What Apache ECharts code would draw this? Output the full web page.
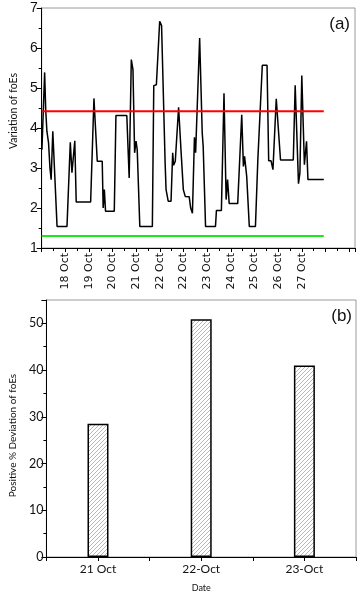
<!DOCTYPE html>
<html>
<head>
<meta charset="utf-8">
<script src="https://cdn.jsdelivr.net/npm/echarts@6/dist/echarts.min.js"></script>
<style>
html,body{margin:0;padding:0;background:#fff;}
#chart{width:360px;height:594px;}
</style>
</head>
<body>
<div id="chart"></div>
<script>
// ---- Panel (a): variation of foEs (x in day units; 18 = first labelled tick) ----
var foEsDay = [17.01,17.125,17.17,17.22,17.29,17.35,17.40,17.47,17.65,18.07,18.21,18.28,18.40,18.46,19.07,19.21,19.35,19.56,19.60,19.65,19.70,20.07,20.14,20.60,20.70,20.74,20.79,20.86,20.93,20.99,21.04,21.15,21.68,21.74,21.85,21.99,22.07,22.15,22.22,22.26,22.35,22.47,22.54,22.58,22.65,22.79,22.89,22.99,23.07,23.24,23.30,23.375,23.46,23.51,23.58,23.68,23.79,23.83,23.93,24.35,24.39,24.60,24.71,24.80,24.86,24.93,25.29,25.46,25.53,25.58,25.67,25.78,26.04,26.14,26.22,26.33,26.53,26.60,26.70,26.78,26.92,27.00,27.10,27.64,27.72,27.86,27.92,28.00,28.11,28.20,28.26,28.93];
var foEsValue = [3.46,5.39,4.46,3.92,3.63,3.00,2.71,3.92,1.54,1.54,3.64,2.88,3.68,2.15,2.15,4.74,3.17,3.17,2.00,2.46,1.92,1.92,4.31,4.31,2.75,2.71,5.71,5.46,3.38,3.67,3.46,1.54,1.54,5.06,5.08,6.67,6.56,6.54,3.13,2.46,2.17,2.17,3.38,3.07,3.17,4.52,3.46,2.46,2.29,2.28,2.00,1.87,3.77,3.38,3.38,6.25,3.87,3.54,1.54,1.54,1.94,1.94,4.87,2.21,2.71,2.11,2.11,4.33,3.04,3.29,2.79,1.54,1.54,3.19,3.19,5.57,5.57,3.18,3.18,2.96,4.73,4.71,3.20,3.20,5.07,2.61,2.88,5.31,3.08,3.67,2.71,2.71];
var upperLimit = 4.42;
var lowerLimit = 1.30;
var limitSpan = [17.0, 28.93];
var xTickLabels = ["", "18 Oct", "19 Oct", "20 Oct", "21 Oct", "22 Oct", "22 Oct", "23 Oct", "24 Oct", "25 Oct", "26 Oct", "27 Oct", "", ""];

// ---- Panel (b): positive % deviation ----
var devCategories = ["21 Oct", "22-Oct", "23-Oct"];
var devValues = [28.5, 50.9, 41.0];

function pairs(xs, ys) { return xs.map(function (x, i) { return [x, ys[i]]; }); }

function hatchCanvas() {
  var c = document.createElement('canvas');
  c.width = 4; c.height = 4;
  var g = c.getContext('2d');
  g.fillStyle = '#ffffff'; g.fillRect(0, 0, 4, 4);
  g.strokeStyle = '#a6a6a6'; g.lineWidth = 0.8;
  g.beginPath();
  g.moveTo(0, 4); g.lineTo(4, 0);
  g.moveTo(-1, 1); g.lineTo(1, -1);
  g.moveTo(3, 5); g.lineTo(5, 3);
  g.stroke();
  return c;
}

var chart = echarts.init(document.getElementById('chart'), null, {renderer: 'canvas'});
var black = '#000';
var option = {
  backgroundColor: '#fff',
  animation: false,
  grid: [
    {left: 37, top: 8, width: 318, height: 240, show: true, borderColor: '#9a9a9a', borderWidth: 1},
    {left: 38, top: 300, width: 318, height: 260, show: true, borderColor: '#9a9a9a', borderWidth: 1}
  ],
  xAxis: [
    {
      type: 'value', gridIndex: 0, min: 17, max: 30.25, interval: 1,
      axisLine: {show: true, onZero: false, lineStyle: {color: black, width: 1}},
      axisTick: {show: true, length: 4, lineStyle: {color: black}},
      minorTick: {show: true, splitNumber: 2, length: 3, lineStyle: {color: black}},
      splitLine: {show: false},
      axisLabel: {
        rotate: 90, margin: 5, fontFamily: 'DejaVu Sans', fontSize: 11, color: '#111',
        showMaxLabel: false, showMinLabel: false,
        formatter: function (v) {
          var k = Math.round(v - 17);
          if (Math.abs(v - 17 - k) > 1e-6) return '';
          return xTickLabels[k] || '';
        }
      }
    },
    {
      type: 'category', gridIndex: 1, data: devCategories, position: 'bottom',
      axisLine: {show: true, lineStyle: {color: black, width: 1}},
      axisTick: {show: true, alignWithLabel: true, length: 4, lineStyle: {color: black}},
      axisLabel: {fontFamily: 'Lato', fontSize: 12, color: '#111', margin: 6},
      name: 'Date', nameLocation: 'middle', nameGap: 27,
      nameTextStyle: {fontFamily: 'Lato', fontSize: 9, color: '#111'}
    },
    {
      type: 'category', gridIndex: 1, data: devCategories, position: 'bottom',
      axisLine: {show: false},
      axisTick: {show: true, length: 4, lineStyle: {color: black}},
      axisLabel: {show: false}
    }
  ],
  yAxis: [
    {
      type: 'value', gridIndex: 0, min: 1, max: 7, interval: 1,
      axisLine: {show: true, onZero: false, lineStyle: {color: black, width: 1}},
      axisTick: {show: true, length: 5, lineStyle: {color: black}},
      minorTick: {show: true, splitNumber: 2, length: 3, lineStyle: {color: black}},
      splitLine: {show: false},
      axisLabel: {fontFamily: 'Liberation Sans', fontSize: 14, color: '#111', margin: 4},
      name: 'Variation of foEs', nameLocation: 'middle', nameGap: 20,
      nameTextStyle: {fontFamily: 'Lato', fontSize: 10.5, color: '#111', padding: [0, 0, 0, 34]}
    },
    {
      type: 'value', gridIndex: 1, min: 0, max: 55, interval: 10,
      axisLine: {show: true, lineStyle: {color: black, width: 1}},
      axisTick: {show: true, length: 5, lineStyle: {color: black}},
      minorTick: {show: true, splitNumber: 2, length: 3, lineStyle: {color: black}},
      splitLine: {show: false},
      axisLabel: {fontFamily: 'Lato', fontSize: 12.5, color: '#111', margin: 3, showMaxLabel: false,
        formatter: function (v) { return v % 10 === 0 ? String(v) : ''; }},
      name: 'Positive % Deviation of foEs', nameLocation: 'middle', nameGap: 25,
      nameTextStyle: {fontFamily: 'Lato', fontSize: 10, color: '#111', padding: [0, 14, 0, 0]}
    }
  ],
  series: [
    {
      type: 'line', xAxisIndex: 0, yAxisIndex: 0, data: pairs(foEsDay, foEsValue),
      showSymbol: false, symbol: 'none', lineStyle: {color: '#000', width: 1.5}, z: 3
    },
    {
      type: 'line', xAxisIndex: 0, yAxisIndex: 0,
      data: [[limitSpan[0], upperLimit], [limitSpan[1], upperLimit]],
      symbol: 'none', lineStyle: {color: '#ff0000', width: 2}, z: 4
    },
    {
      type: 'line', xAxisIndex: 0, yAxisIndex: 0,
      data: [[limitSpan[0], lowerLimit], [limitSpan[1], lowerLimit]],
      symbol: 'none', lineStyle: {color: '#1ee61e', width: 2}, z: 4
    },
    {
      type: 'bar', xAxisIndex: 1, yAxisIndex: 1, data: devValues, barWidth: 21,
      itemStyle: {color: {image: hatchCanvas(), repeat: 'repeat'}, borderColor: '#000', borderWidth: 1.5}
    }
  ],
  graphic: [
    {type: 'text', right: 10, top: 16, style: {text: '(a)', fontFamily: 'Liberation Sans', fontSize: 17, fill: '#111'}},
    {type: 'text', right: 8, top: 308, style: {text: '(b)', fontFamily: 'Liberation Sans', fontSize: 17, fill: '#111'}}
  ]
};
chart.setOption(option);
</script>
</body>
</html>
